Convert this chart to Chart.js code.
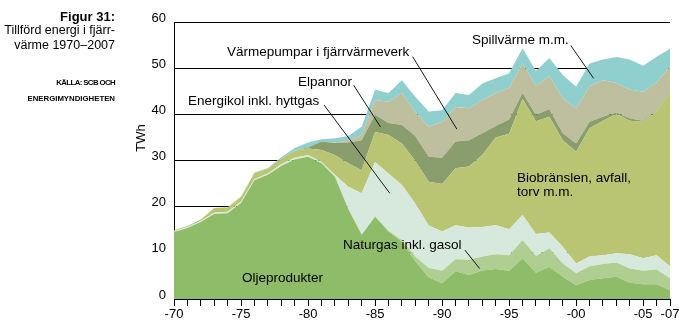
<!DOCTYPE html>
<html>
<head>
<meta charset="utf-8">
<script src="https://cdn.jsdelivr.net/npm/chart.js@4.4.1/dist/chart.umd.min.js"></script>
<style>
  body { margin: 0; background: #fff; font-family: "Liberation Sans", Arial, sans-serif; }
  #wrap { position: relative; width: 679px; height: 323px; overflow: hidden; }
  canvas { position: absolute; left: 0; top: 0; }
  .t { position: absolute; white-space: nowrap; color: #000; line-height: 1; }
  .a { font-size: 13.5px; }
  .side { right: 564px; text-align: right; }
  .src { font-weight: bold; font-size: 7.8px; }
</style>
</head>
<body>
<div id="wrap">
  <canvas id="chart" width="679" height="323"></canvas>

  <div class="t side" style="top:10px;font-size:13px;font-weight:bold;">Figur 31:</div>
  <div class="t side" style="top:24px;font-size:12.5px;">Tillförd energi i fjärr-</div>
  <div class="t side" style="top:39px;font-size:12.5px;">värme 1970–2007</div>
  <div class="t side src" style="top:79px;letter-spacing:-0.6px;">KÄLLA: SCB OCH</div>
  <div class="t side src" style="top:95px;">ENERGIMYNDIGHETEN</div>

  <div class="t" style="left:140px;top:138px;font-size:13px;transform:translate(-50%,-50%) rotate(-90deg);">TWh</div>

  <div class="t a" style="left:227px;top:45px;">Värmepumpar i fjärrvärmeverk</div>
  <div class="t a" style="left:472px;top:33px;">Spillvärme m.m.</div>
  <div class="t a" style="left:298px;top:75px;">Elpannor</div>
  <div class="t a" style="left:188px;top:94px;">Energikol inkl. hyttgas</div>
  <div class="t a" style="left:517px;top:171px;">Biobränslen, avfall,</div>
  <div class="t a" style="left:517px;top:185px;">torv m.m.</div>
  <div class="t a" style="left:343px;top:238px;">Naturgas inkl. gasol</div>
  <div class="t a" style="left:242px;top:271px;">Oljeprodukter</div>
</div>

<script>
// TWh per år
const years = [
  1970, 1971, 1972, 1973, 1974, 1975, 1976, 1977, 1978, 1979,
  1980, 1981, 1982, 1983, 1984, 1985, 1986, 1987, 1988, 1989,
  1990, 1991, 1992, 1993, 1994, 1995, 1996, 1997, 1998, 1999,
  2000, 2001, 2002, 2003, 2004, 2005, 2006, 2007
];

const oljeprodukter = [
  14.5, 15.4, 16.7, 18.4, 18.6, 20.8, 25.7, 26.9, 28.8, 30.2,
  30.8, 29.4, 26.5, 19.5, 13.9, 17.8, 14.6, 12.4, 8.2, 4.7,
  3.4, 6.0, 5.2, 6.2, 6.5, 6.1, 8.8, 5.7, 7.0, 4.8,
  3.0, 4.1, 4.5, 4.8, 3.5, 3.2, 3.2, 1.9
];
const naturgas = [
  0, 0, 0, 0, 0, 0, 0, 0, 0, 0,
  0, 0, 0, 0, 0, 0.1, 0.2, 0.4, 1.0, 2.0,
  2.7, 2.6, 3.3, 3.0, 3.2, 3.4, 4.0, 3.6, 4.0, 2.9,
  2.6, 3.0, 3.1, 3.1, 3.1, 2.9, 3.2, 2.6
];
const energikol = [
  0.2, 0.2, 0.2, 0.3, 0.3, 0.3, 0.3, 0.3, 0.4, 0.4,
  0.4, 0.3, 0.4, 4.8, 9.0, 11.8, 12.4, 11.9, 11.5, 9.2,
  8.5, 7.4, 7.0, 6.4, 6.3, 5.6, 5.4, 4.8, 3.4, 3.6,
  2.1, 2.1, 1.9, 2.0, 3.1, 2.7, 3.1, 2.6
];
const biobranslen = [
  0.2, 0.2, 0.3, 1.0, 1.0, 1.0, 1.3, 1.0, 1.2, 1.5,
  1.4, 2.6, 4.3, 5.1, 5.0, 6.5, 8.3, 9.0, 9.2, 9.5,
  10.3, 12.3, 13.2, 15.6, 19.0, 20.7, 25.1, 24.4, 25.1, 23.1,
  24.2, 27.8, 29.1, 30.2, 28.9, 29.6, 31.1, 37.6
];
const elpannor = [
  0, 0, 0, 0, 0, 0, 0, 0, 0, 0,
  0.2, 1.8, 2.6, 4.5, 6.5, 3.7, 2.6, 4.0, 5.4, 5.4,
  5.7, 5.8, 5.7, 4.7, 2.5, 3.1, 1.3, 1.4, 1.6, 1.5,
  1.8, 1.4, 0.9, 0.3, 0.5, 0.2, 0.2, 0.2
];
const varmepumpar = [
  0, 0, 0, 0, 0, 0, 0, 0, 0, 0,
  0, 0, 0.1, 0.4, 1.1, 3.2, 4.6, 6.9, 5.2, 6.5,
  7.8, 7.5, 6.9, 7.2, 7.1, 6.8, 6.4, 6.3, 7.2, 7.6,
  7.6, 7.7, 7.9, 6.4, 6.3, 6.3, 6.1, 5.4
];
const spillvarme = [
  0, 0, 0, 0, 0, 0.1, 0.1, 0.2, 0.3, 0.6,
  1.1, 0.5, 0.9, 1.0, 1.8, 2.2, 1.9, 2.8, 3.3, 3.3,
  2.5, 3.0, 2.9, 3.6, 3.2, 3.2, 3.3, 3.2, 3.9, 5.0,
  4.7, 4.9, 4.5, 5.6, 6.5, 5.6, 5.6, 3.9
];

const seriesNames = [
  "Oljeprodukter", "Naturgas inkl. gasol", "Energikol inkl. hyttgas",
  "Biobränslen, avfall, torv m.m.", "Elpannor",
  "Värmepumpar i fjärrvärmeverk", "Spillvärme m.m."
];
const seriesData = [oljeprodukter, naturgas, energikol, biobranslen, elpannor, varmepumpar, spillvarme];
const seriesColors = ["#8fbc68", "#afcf92", "#d6e9dc", "#bac573", "#8a9e6d", "#bebf9f", "#8fd0cf"];

// pekarlinjer: [år, TWh] -> [år, TWh]
const leaders = [
  [[1987.8, 52.5], [1991.1, 36.8]],
  [[1999.6, 54.9], [2001.3, 47.8]],
  [[1983.4, 46.3], [1985.4, 37.3]],
  [[1981.2, 42.0], [1986.1, 22.9]],
  [[1991.7, 10.6], [1992.8, 6.6]]
];

const leaderPlugin = {
  id: "leaders",
  afterDraw(chart) {
    const { ctx, scales: { x, y } } = chart;
    ctx.save();
    ctx.strokeStyle = "#000";
    ctx.lineWidth = 0.9;
    leaders.forEach(([a, b]) => {
      ctx.beginPath();
      ctx.moveTo(x.getPixelForValue(a[0] - years[0]), y.getPixelForValue(a[1]));
      ctx.lineTo(x.getPixelForValue(b[0] - years[0]), y.getPixelForValue(b[1]));
      ctx.stroke();
    });
    ctx.restore();
  }
};

const tickFont = { family: "'Liberation Sans', Arial, sans-serif", size: 13 };

new Chart(document.getElementById("chart").getContext("2d"), {
  type: "line",
  data: {
    labels: years,
    datasets: seriesData.map((d, i) => ({
      label: seriesNames[i],
      data: d,
      backgroundColor: seriesColors[i],
      borderWidth: 0,
      pointRadius: 0,
      tension: 0,
      fill: i === 0 ? "origin" : "-1"
    }))
  },
  options: {
    responsive: false,
    animation: false,
    layout: { padding: { top: 22, right: 9, left: 0, bottom: 0 } },
    plugins: { legend: { display: false }, tooltip: { enabled: false } },
    scales: {
      x: {
        z: 1,
        grid: { drawOnChartArea: false, color: "#000", tickLength: 7 },
        border: { color: "#000", width: 1 },
        ticks: {
          autoSkip: false,
          maxRotation: 0,
          padding: 1,
          color: "#000",
          font: tickFont,
          callback: (v, i) => {
            const yr = years[i];
            return (yr % 5 === 0 || yr === 2007) ? "-" + String(yr).slice(2) : "";
          }
        },
        afterFit: (s) => { s.height = 24; s.paddingLeft = 0; s.paddingRight = 0; }
      },
      y: {
        z: 1,
        stacked: true,
        min: 0,
        max: 60,
        grid: { color: "#000", drawTicks: false, tickLength: 0, lineWidth: 1 },
        border: { color: "#000", width: 1 },
        ticks: { stepSize: 10, padding: 8, labelOffset: -4, color: "#000", font: tickFont },
        afterFit: (s) => { s.width = 174; s.paddingTop = 0; s.paddingBottom = 0; }
      }
    }
  },
  plugins: [leaderPlugin]
});
</script>
</body>
</html>
